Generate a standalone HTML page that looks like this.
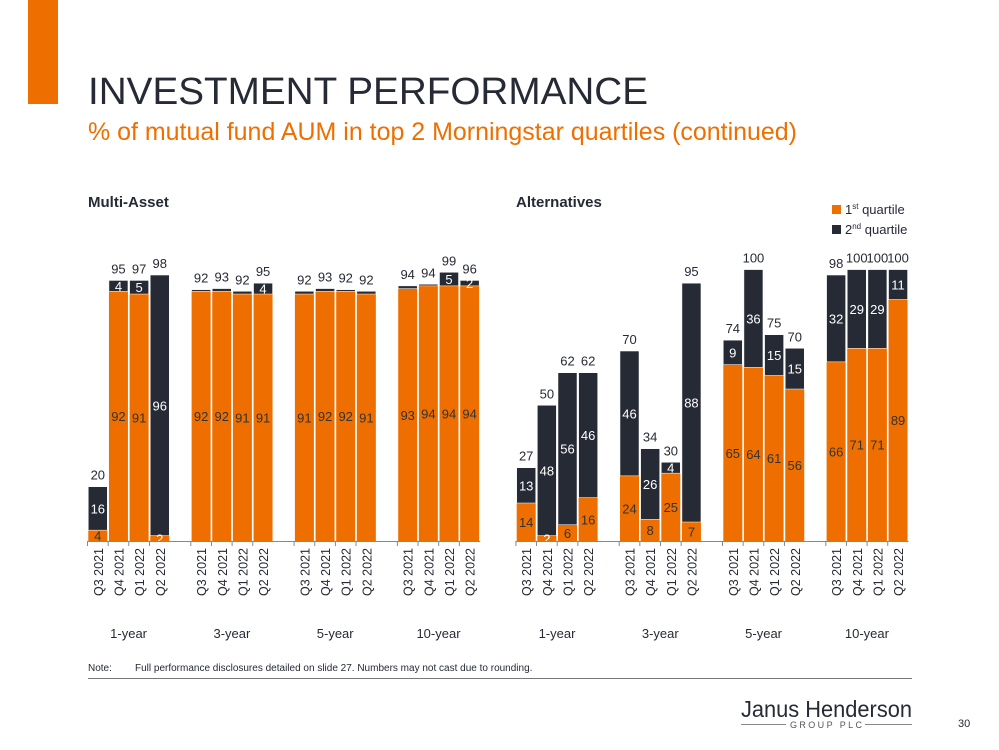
<!DOCTYPE html>
<html><head><meta charset="utf-8"><style>
body{margin:0;background:#fff;}
svg{display:block;font-family:"Liberation Sans",Arial,sans-serif;}
</style></head><body>
<svg id="s" width="999" height="750" viewBox="0 0 999 750" xmlns="http://www.w3.org/2000/svg">
<rect x="28" y="0" width="30" height="104" fill="#EE6F00"/>
<text x="88" y="104" font-size="38" fill="#262A35" textLength="560" lengthAdjust="spacingAndGlyphs">INVESTMENT PERFORMANCE</text>
<text x="88" y="140" font-size="25" fill="#EE6F00" textLength="709" lengthAdjust="spacingAndGlyphs">% of mutual fund AUM in top 2 Morningstar quartiles (continued)</text>
<text x="88" y="207" font-size="15" font-weight="bold" fill="#262A35">Multi-Asset</text>
<text x="516" y="207" font-size="15" font-weight="bold" fill="#262A35">Alternatives</text>
<g>
<rect x="832" y="205" width="9" height="9" fill="#EE6F00"/>
<text x="845" y="214" font-size="13" fill="#262A35">1<tspan font-size="8" dy="-5">st</tspan><tspan dy="5"> quartile</tspan></text>
<rect x="832" y="225" width="9" height="9" fill="#262A35"/>
<text x="845" y="234" font-size="13" fill="#262A35">2<tspan font-size="8" dy="-5">nd</tspan><tspan dy="5"> quartile</tspan></text>
</g>
<g id="charts"></g>
<text x="88" y="671" font-size="10" fill="#262A35">Note:</text>
<text x="135" y="671" font-size="10" fill="#262A35">Full performance disclosures detailed on slide 27. Numbers may not cast due to rounding.</text>
<line x1="88" y1="678.5" x2="912" y2="678.5" stroke="#777" stroke-width="1"/>
<text x="741" y="717" font-size="23" fill="#262A35" textLength="171" lengthAdjust="spacingAndGlyphs">Janus Henderson</text>
<line x1="741" y1="724.5" x2="786" y2="724.5" stroke="#888"/>
<line x1="865" y1="724.5" x2="912" y2="724.5" stroke="#888"/>
<text x="790" y="728" font-size="9" fill="#555" textLength="72" lengthAdjust="spacing">GROUP PLC</text>
<text x="958" y="727" font-size="11" fill="#262A35">30</text>
</svg>
<script>
const groups = ["1-year","3-year","5-year","10-year"];
const quarters = ["Q3 2021","Q4 2021","Q1 2022","Q2 2022"];
const maFirst  = [4,92,91,2, 92,92,91,91, 91,92,92,91, 93,94,94,94];
const maSecond = [16,4,5,96, 0.6,1,1,4, 1,1,0.6,1, 1,0.6,5,2];
const maTotal  = ["20","95","97","98","92","93","92","95","92","93","92","92","94","94","99","96"];
const maFirstLbl  = ["4","92","91","2","92","92","91","91","91","92","92","91","93","94","94","94"];
const maSecondLbl = ["16","4","5","96","","","","4","","","","","","","5","2"];
const altFirst  = [14,2,6,16, 24,8,25,7, 65,64,61,56, 66,71,71,89];
const altSecond = [13,48,56,46, 46,26,4,88, 9,36,15,15, 32,29,29,11];
const altTotal  = ["27","50","62","62","70","34","30","95","74","100","75","70","98","100","100","100"];
const altFirstLbl  = ["14","2","6","16","24","8","25","7","65","64","61","56","66","71","71","89"];
const altSecondLbl = ["13","48","56","46","46","26","4","88","9","36","15","15","32","29","29","11"];

const NS="http://www.w3.org/2000/svg";
const root=document.getElementById('charts');
const base=541, unit=2.714, barW=19, pitch=20.65, gpitch=103.3;
function y(v){return base-v*unit;}
function mk(tag,attrs,parent){const e=document.createElementNS(NS,tag);for(const k in attrs)e.setAttribute(k,attrs[k]);parent.appendChild(e);return e;}
function chart(x0,first,second,total,fl,sl,name){
  const g=mk('g',{},root);
  
  
  function bx(i){return x0+Math.floor(i/4)*gpitch+(i%4)*pitch;}
  first.forEach((v,i)=>{
    const x=bx(i);
    const r1=mk('rect',{x:x,y:y(v),width:barW,height:v*unit,fill:'#EE6F00'},g);
    
    
    const s=second[i];
    const r2=mk('rect',{x:x,y:y(v+s),width:barW,height:s*unit,fill:'#262A35',stroke:'#fff','stroke-width':0.5},g);
    
    
    const cx=x+barW/2;
    if(fl[i]){const t=mk('text',{x:cx,y:(y(0)+y(v))/2+5,'font-size':13,fill:(v<3?'#fff':'#333'),'text-anchor':'middle'},g);t.textContent=fl[i];
      
      }
    if(sl[i]){const t=mk('text',{x:cx,y:(y(v)+y(v+s))/2+5,'font-size':13,fill:'#fff','text-anchor':'middle'},g);t.textContent=sl[i];
      
      }
    const tt=mk('text',{x:cx,y:y(v+s)-7,'font-size':13,fill:'#262A35','text-anchor':'middle'},g);tt.textContent=total[i];
    
    
    const ql=mk('text',{transform:'translate('+(cx+5)+',548) rotate(-90)','font-size':12.5,fill:'#262A35','text-anchor':'end'},g);ql.textContent=quarters[i%4];
    
    
  });
  const ax=mk('line',{x1:x0-1,y1:base+0.5,x2:bx(15)+barW+1,y2:base+0.5,stroke:'#888','stroke-width':1},g);
  
  
  for(let i=0;i<16;i++){
    const tk=mk('line',{x1:bx(i)-0.8,y1:base,x2:bx(i)-0.8,y2:base+5,stroke:'#888'},g);
    
    
  }
  groups.forEach((gname,k)=>{
    const t=mk('text',{x:bx(k*4)+2*pitch-1,y:638,'font-size':13,fill:'#262A35','text-anchor':'middle'},g);t.textContent=gname;
    
    
  });
}
chart(88.3,maFirst,maSecond,maTotal,maFirstLbl,maSecondLbl,'multi-asset-chart');
chart(516.7,altFirst,altSecond,altTotal,altFirstLbl,altSecondLbl,'alternatives-chart');
</script>
</body></html>
